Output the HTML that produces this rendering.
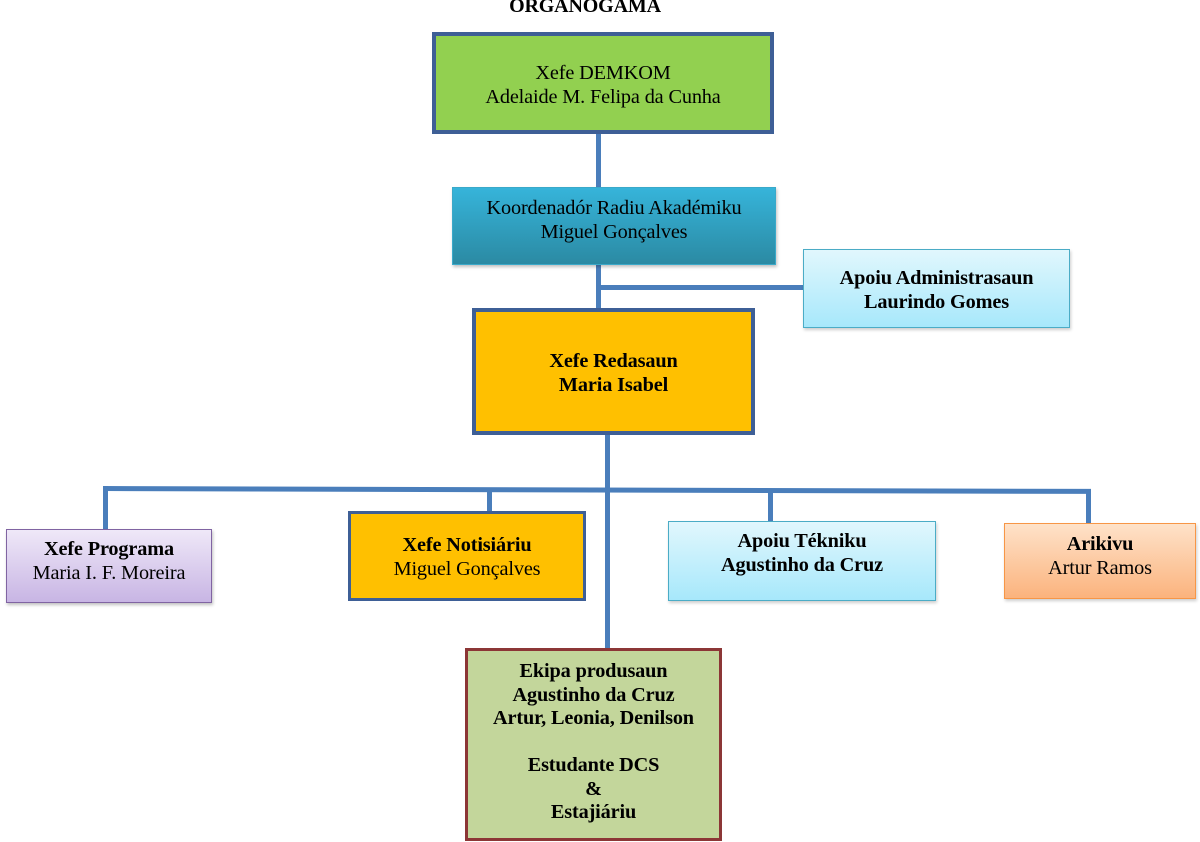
<!DOCTYPE html>
<html><head><meta charset="utf-8"><style>
body{margin:0;width:1200px;height:842px;background:#fff;position:relative;overflow:hidden;font-family:"Liberation Serif",serif;}
.b{position:absolute;box-sizing:border-box;}
.t{position:absolute;left:0;right:0;text-align:center;font-size:20.3px;line-height:23.5px;color:#000;letter-spacing:-0.15px;}
.l{position:absolute;background:#4a7ebb;}
.bold{font-weight:bold;}
</style></head><body>
<div class="t bold" style="top:-5px;left:0;width:1170px;font-size:20px;">ORGANOGAMA</div>

<div class="l" style="left:596px;top:133px;width:5px;height:56px;"></div>
<div class="l" style="left:596px;top:264px;width:5px;height:44px;"></div>
<div class="l" style="left:596px;top:285px;width:208px;height:5px;"></div>
<div class="l" style="left:605px;top:435px;width:5px;height:214px;"></div>
<div class="l" style="left:103px;top:486px;width:988px;height:5px;transform:rotate(0.17deg);transform-origin:left center;"></div>
<div class="l" style="left:103px;top:486px;width:5px;height:43px;"></div>
<div class="l" style="left:487px;top:488px;width:5px;height:24px;"></div>
<div class="l" style="left:768px;top:489px;width:5px;height:33px;"></div>
<div class="l" style="left:1086px;top:489px;width:5px;height:34px;"></div>

<div class="b" style="left:432px;top:32px;width:342px;height:102px;background:#92d050;border:4px solid #3e5f96;"></div>
<div class="t" style="left:432px;width:342px;right:auto;top:62px;">Xefe DEMKOM<br>Adelaide M. Felipa da Cunha</div>

<div class="b" style="left:452px;top:187px;width:324px;height:78px;background:linear-gradient(#36b4da,#2b8aa3);box-shadow:1px 2px 3px rgba(0,0,0,.25);border:1px solid #3aa9c9;"></div>
<div class="t" style="left:452px;width:324px;right:auto;top:197px;">Koordenadór Radiu Akadémiku<br>Miguel Gonçalves</div>

<div class="b" style="left:803px;top:249px;width:267px;height:79px;background:linear-gradient(#e1f7fd,#a7e8fb);border:1px solid #4bacc6;box-shadow:1px 2px 3px rgba(0,0,0,.2);"></div>
<div class="t bold" style="left:803px;width:267px;right:auto;top:267px;">Apoiu Administrasaun<br>Laurindo Gomes</div>

<div class="b" style="left:472px;top:308px;width:283px;height:127px;background:#ffc000;border:4px solid #3e5f96;"></div>
<div class="t bold" style="left:472px;width:283px;right:auto;top:350px;">Xefe Redasaun<br>Maria Isabel</div>

<div class="b" style="left:6px;top:529px;width:206px;height:74px;background:linear-gradient(#efe8f8,#c8b5e4);border:1px solid #8064a2;box-shadow:1px 2px 3px rgba(0,0,0,.25);"></div>
<div class="t" style="left:6px;width:206px;right:auto;top:538px;"><b>Xefe Programa</b><br>Maria I. F. Moreira</div>

<div class="b" style="left:348px;top:511px;width:238px;height:90px;background:#ffc000;border:3px solid #3e5f96;"></div>
<div class="t" style="left:348px;width:238px;right:auto;top:534px;"><b>Xefe Notisiáriu</b><br>Miguel Gonçalves</div>

<div class="b" style="left:668px;top:521px;width:268px;height:80px;background:linear-gradient(#e1f7fd,#a7e8fb);border:1px solid #4bacc6;box-shadow:1px 2px 3px rgba(0,0,0,.2);"></div>
<div class="t bold" style="left:668px;width:268px;right:auto;top:530px;">Apoiu Tékniku<br>Agustinho da Cruz</div>

<div class="b" style="left:1004px;top:523px;width:192px;height:76px;background:linear-gradient(#fee2c9,#fbb37d);border:1px solid #f79646;box-shadow:1px 2px 3px rgba(0,0,0,.2);"></div>
<div class="t" style="left:1004px;width:192px;right:auto;top:533px;"><b>Arikivu</b><br>Artur Ramos</div>

<div class="b" style="left:465px;top:648px;width:257px;height:193px;background:#c3d69b;border:3px solid #8c3636;"></div>
<div class="t bold" style="left:465px;width:257px;right:auto;top:660px;">Ekipa produsaun<br>Agustinho da Cruz<br>Artur, Leonia, Denilson<br><br>Estudante DCS<br>&amp;<br>Estajiáriu</div>
</body></html>
